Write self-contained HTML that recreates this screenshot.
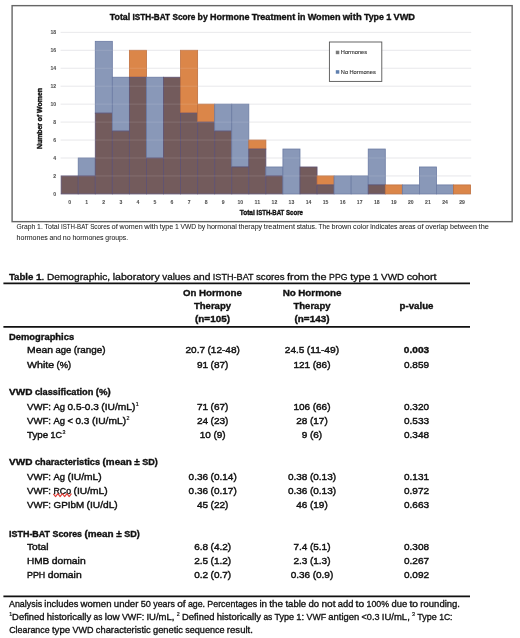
<!DOCTYPE html>
<html lang="en"><head><meta charset="utf-8"><title>Total ISTH-BAT Score by Hormone Treatment in Women with Type 1 VWD</title>
<style>
html,body{margin:0;padding:0;background:#fff;}
body{width:520px;height:638px;overflow:hidden;}
svg{display:block;font-family:"Liberation Sans",sans-serif;filter:blur(0.35px);}
text{white-space:pre;}
</style></head><body>
<svg width="520" height="638" viewBox="0 0 520 638">
<rect width="520" height="638" fill="#fff"/>
<rect x="12.10" y="5.65" width="500.05" height="216.00" fill="#fff" stroke="#666" stroke-width="1.4"/>
<line x1="60.60" y1="193.90" x2="471.19" y2="193.90" stroke="#dadade" stroke-width="1"/>
<line x1="60.60" y1="175.95" x2="471.19" y2="175.95" stroke="#e7e7ea" stroke-width="1"/>
<line x1="60.60" y1="158.00" x2="471.19" y2="158.00" stroke="#e7e7ea" stroke-width="1"/>
<line x1="60.60" y1="140.05" x2="471.19" y2="140.05" stroke="#e7e7ea" stroke-width="1"/>
<line x1="60.60" y1="122.10" x2="471.19" y2="122.10" stroke="#e7e7ea" stroke-width="1"/>
<line x1="60.60" y1="104.15" x2="471.19" y2="104.15" stroke="#e7e7ea" stroke-width="1"/>
<line x1="60.60" y1="86.20" x2="471.19" y2="86.20" stroke="#e7e7ea" stroke-width="1"/>
<line x1="60.60" y1="68.25" x2="471.19" y2="68.25" stroke="#e7e7ea" stroke-width="1"/>
<line x1="60.60" y1="50.30" x2="471.19" y2="50.30" stroke="#e7e7ea" stroke-width="1"/>
<line x1="60.60" y1="32.35" x2="471.19" y2="32.35" stroke="#e7e7ea" stroke-width="1"/>
<rect x="61.15" y="175.95" width="17.06" height="17.95" fill="#735b5c" stroke="#5e5272" stroke-width="0.8"/>
<rect x="78.21" y="158.00" width="17.06" height="17.95" fill="#8998b8" stroke="#6b7ba3" stroke-width="0.8"/>
<rect x="78.21" y="175.95" width="17.06" height="17.95" fill="#735b5c" stroke="#5e5272" stroke-width="0.8"/>
<rect x="95.27" y="41.33" width="17.06" height="71.80" fill="#8998b8" stroke="#6b7ba3" stroke-width="0.8"/>
<rect x="95.27" y="113.13" width="17.06" height="80.77" fill="#735b5c" stroke="#5e5272" stroke-width="0.8"/>
<rect x="112.33" y="77.23" width="17.06" height="53.85" fill="#8998b8" stroke="#6b7ba3" stroke-width="0.8"/>
<rect x="112.33" y="131.08" width="17.06" height="62.82" fill="#735b5c" stroke="#5e5272" stroke-width="0.8"/>
<rect x="129.39" y="50.30" width="17.06" height="26.92" fill="#db8649" stroke="#c0703f" stroke-width="0.8"/>
<rect x="129.39" y="77.23" width="17.06" height="116.67" fill="#735b5c" stroke="#5e5272" stroke-width="0.8"/>
<rect x="146.45" y="77.23" width="17.06" height="80.77" fill="#8998b8" stroke="#6b7ba3" stroke-width="0.8"/>
<rect x="146.45" y="158.00" width="17.06" height="35.90" fill="#735b5c" stroke="#5e5272" stroke-width="0.8"/>
<rect x="163.51" y="77.23" width="17.06" height="116.67" fill="#735b5c" stroke="#5e5272" stroke-width="0.8"/>
<rect x="180.57" y="50.30" width="17.06" height="62.82" fill="#db8649" stroke="#c0703f" stroke-width="0.8"/>
<rect x="180.57" y="113.13" width="17.06" height="80.77" fill="#735b5c" stroke="#5e5272" stroke-width="0.8"/>
<rect x="197.63" y="104.15" width="17.06" height="17.95" fill="#db8649" stroke="#c0703f" stroke-width="0.8"/>
<rect x="197.63" y="122.10" width="17.06" height="71.80" fill="#735b5c" stroke="#5e5272" stroke-width="0.8"/>
<rect x="214.69" y="104.15" width="17.06" height="26.92" fill="#8998b8" stroke="#6b7ba3" stroke-width="0.8"/>
<rect x="214.69" y="131.08" width="17.06" height="62.82" fill="#735b5c" stroke="#5e5272" stroke-width="0.8"/>
<rect x="231.75" y="104.15" width="17.06" height="62.82" fill="#8998b8" stroke="#6b7ba3" stroke-width="0.8"/>
<rect x="231.75" y="166.98" width="17.06" height="26.92" fill="#735b5c" stroke="#5e5272" stroke-width="0.8"/>
<rect x="248.81" y="140.05" width="17.06" height="8.97" fill="#db8649" stroke="#c0703f" stroke-width="0.8"/>
<rect x="248.81" y="149.03" width="17.06" height="44.88" fill="#735b5c" stroke="#5e5272" stroke-width="0.8"/>
<rect x="265.87" y="166.98" width="17.06" height="8.97" fill="#8998b8" stroke="#6b7ba3" stroke-width="0.8"/>
<rect x="265.87" y="175.95" width="17.06" height="17.95" fill="#735b5c" stroke="#5e5272" stroke-width="0.8"/>
<rect x="282.93" y="149.03" width="17.06" height="44.88" fill="#8998b8" stroke="#6b7ba3" stroke-width="0.8"/>
<rect x="299.99" y="166.98" width="17.06" height="26.92" fill="#735b5c" stroke="#5e5272" stroke-width="0.8"/>
<rect x="317.05" y="175.95" width="17.06" height="8.97" fill="#db8649" stroke="#c0703f" stroke-width="0.8"/>
<rect x="317.05" y="184.93" width="17.06" height="8.97" fill="#735b5c" stroke="#5e5272" stroke-width="0.8"/>
<rect x="334.11" y="175.95" width="17.06" height="17.95" fill="#8998b8" stroke="#6b7ba3" stroke-width="0.8"/>
<rect x="351.17" y="175.95" width="17.06" height="17.95" fill="#8998b8" stroke="#6b7ba3" stroke-width="0.8"/>
<rect x="368.23" y="149.03" width="17.06" height="35.90" fill="#8998b8" stroke="#6b7ba3" stroke-width="0.8"/>
<rect x="368.23" y="184.93" width="17.06" height="8.97" fill="#735b5c" stroke="#5e5272" stroke-width="0.8"/>
<rect x="385.29" y="184.93" width="17.06" height="8.97" fill="#db8649" stroke="#c0703f" stroke-width="0.8"/>
<rect x="402.35" y="184.93" width="17.06" height="8.97" fill="#8998b8" stroke="#6b7ba3" stroke-width="0.8"/>
<rect x="419.41" y="166.98" width="17.06" height="26.92" fill="#8998b8" stroke="#6b7ba3" stroke-width="0.8"/>
<rect x="436.47" y="184.93" width="17.06" height="8.97" fill="#8998b8" stroke="#6b7ba3" stroke-width="0.8"/>
<rect x="453.53" y="184.93" width="17.06" height="8.97" fill="#db8649" stroke="#c0703f" stroke-width="0.8"/>
<line x1="61.15" y1="175.95" x2="470.59" y2="175.95" stroke="#fff" stroke-opacity="0.12" stroke-width="1"/>
<line x1="61.15" y1="158.00" x2="470.59" y2="158.00" stroke="#fff" stroke-opacity="0.12" stroke-width="1"/>
<line x1="61.15" y1="140.05" x2="470.59" y2="140.05" stroke="#fff" stroke-opacity="0.12" stroke-width="1"/>
<line x1="61.15" y1="122.10" x2="470.59" y2="122.10" stroke="#fff" stroke-opacity="0.12" stroke-width="1"/>
<line x1="61.15" y1="104.15" x2="470.59" y2="104.15" stroke="#fff" stroke-opacity="0.12" stroke-width="1"/>
<line x1="61.15" y1="86.20" x2="470.59" y2="86.20" stroke="#fff" stroke-opacity="0.12" stroke-width="1"/>
<line x1="61.15" y1="68.25" x2="470.59" y2="68.25" stroke="#fff" stroke-opacity="0.12" stroke-width="1"/>
<line x1="61.15" y1="50.30" x2="470.59" y2="50.30" stroke="#fff" stroke-opacity="0.12" stroke-width="1"/>
<line x1="61.15" y1="32.35" x2="470.59" y2="32.35" stroke="#fff" stroke-opacity="0.12" stroke-width="1"/>
<text y="195.90" font-size="4.87" font-weight="bold" fill="#505050" stroke="#505050" stroke-width="0.06"><tspan x="53.36" textLength="2.84" lengthAdjust="spacingAndGlyphs">0</tspan></text>
<text y="177.95" font-size="4.87" font-weight="bold" fill="#505050" stroke="#505050" stroke-width="0.06"><tspan x="53.36" textLength="2.84" lengthAdjust="spacingAndGlyphs">2</tspan></text>
<text y="160.00" font-size="4.87" font-weight="bold" fill="#505050" stroke="#505050" stroke-width="0.06"><tspan x="53.36" textLength="2.84" lengthAdjust="spacingAndGlyphs">4</tspan></text>
<text y="142.05" font-size="4.87" font-weight="bold" fill="#505050" stroke="#505050" stroke-width="0.06"><tspan x="53.36" textLength="2.84" lengthAdjust="spacingAndGlyphs">6</tspan></text>
<text y="124.10" font-size="4.87" font-weight="bold" fill="#505050" stroke="#505050" stroke-width="0.06"><tspan x="53.36" textLength="2.84" lengthAdjust="spacingAndGlyphs">8</tspan></text>
<text y="106.15" font-size="4.87" font-weight="bold" fill="#505050" stroke="#505050" stroke-width="0.06"><tspan x="50.52" textLength="5.68" lengthAdjust="spacingAndGlyphs">10</tspan></text>
<text y="88.20" font-size="4.87" font-weight="bold" fill="#505050" stroke="#505050" stroke-width="0.06"><tspan x="50.52" textLength="5.68" lengthAdjust="spacingAndGlyphs">12</tspan></text>
<text y="70.25" font-size="4.87" font-weight="bold" fill="#505050" stroke="#505050" stroke-width="0.06"><tspan x="50.52" textLength="5.68" lengthAdjust="spacingAndGlyphs">14</tspan></text>
<text y="52.30" font-size="4.87" font-weight="bold" fill="#505050" stroke="#505050" stroke-width="0.06"><tspan x="50.52" textLength="5.68" lengthAdjust="spacingAndGlyphs">16</tspan></text>
<text y="34.35" font-size="4.87" font-weight="bold" fill="#505050" stroke="#505050" stroke-width="0.06"><tspan x="50.52" textLength="5.68" lengthAdjust="spacingAndGlyphs">18</tspan></text>
<text y="203.70" font-size="4.87" font-weight="bold" fill="#505050" stroke="#505050" stroke-width="0.06"><tspan x="68.26" textLength="2.84" lengthAdjust="spacingAndGlyphs">0</tspan></text>
<text y="203.70" font-size="4.87" font-weight="bold" fill="#505050" stroke="#505050" stroke-width="0.06"><tspan x="85.32" textLength="2.84" lengthAdjust="spacingAndGlyphs">1</tspan></text>
<text y="203.70" font-size="4.87" font-weight="bold" fill="#505050" stroke="#505050" stroke-width="0.06"><tspan x="102.38" textLength="2.84" lengthAdjust="spacingAndGlyphs">2</tspan></text>
<text y="203.70" font-size="4.87" font-weight="bold" fill="#505050" stroke="#505050" stroke-width="0.06"><tspan x="119.44" textLength="2.84" lengthAdjust="spacingAndGlyphs">3</tspan></text>
<text y="203.70" font-size="4.87" font-weight="bold" fill="#505050" stroke="#505050" stroke-width="0.06"><tspan x="136.50" textLength="2.84" lengthAdjust="spacingAndGlyphs">4</tspan></text>
<text y="203.70" font-size="4.87" font-weight="bold" fill="#505050" stroke="#505050" stroke-width="0.06"><tspan x="153.56" textLength="2.84" lengthAdjust="spacingAndGlyphs">5</tspan></text>
<text y="203.70" font-size="4.87" font-weight="bold" fill="#505050" stroke="#505050" stroke-width="0.06"><tspan x="170.62" textLength="2.84" lengthAdjust="spacingAndGlyphs">6</tspan></text>
<text y="203.70" font-size="4.87" font-weight="bold" fill="#505050" stroke="#505050" stroke-width="0.06"><tspan x="187.68" textLength="2.84" lengthAdjust="spacingAndGlyphs">7</tspan></text>
<text y="203.70" font-size="4.87" font-weight="bold" fill="#505050" stroke="#505050" stroke-width="0.06"><tspan x="204.74" textLength="2.84" lengthAdjust="spacingAndGlyphs">8</tspan></text>
<text y="203.70" font-size="4.87" font-weight="bold" fill="#505050" stroke="#505050" stroke-width="0.06"><tspan x="221.80" textLength="2.84" lengthAdjust="spacingAndGlyphs">9</tspan></text>
<text y="203.70" font-size="4.87" font-weight="bold" fill="#505050" stroke="#505050" stroke-width="0.06"><tspan x="237.44" textLength="5.68" lengthAdjust="spacingAndGlyphs">10</tspan></text>
<text y="203.70" font-size="4.87" font-weight="bold" fill="#505050" stroke="#505050" stroke-width="0.06"><tspan x="254.50" textLength="5.68" lengthAdjust="spacingAndGlyphs">11</tspan></text>
<text y="203.70" font-size="4.87" font-weight="bold" fill="#505050" stroke="#505050" stroke-width="0.06"><tspan x="271.56" textLength="5.68" lengthAdjust="spacingAndGlyphs">12</tspan></text>
<text y="203.70" font-size="4.87" font-weight="bold" fill="#505050" stroke="#505050" stroke-width="0.06"><tspan x="288.62" textLength="5.68" lengthAdjust="spacingAndGlyphs">13</tspan></text>
<text y="203.70" font-size="4.87" font-weight="bold" fill="#505050" stroke="#505050" stroke-width="0.06"><tspan x="305.68" textLength="5.68" lengthAdjust="spacingAndGlyphs">14</tspan></text>
<text y="203.70" font-size="4.87" font-weight="bold" fill="#505050" stroke="#505050" stroke-width="0.06"><tspan x="322.74" textLength="5.68" lengthAdjust="spacingAndGlyphs">15</tspan></text>
<text y="203.70" font-size="4.87" font-weight="bold" fill="#505050" stroke="#505050" stroke-width="0.06"><tspan x="339.80" textLength="5.68" lengthAdjust="spacingAndGlyphs">16</tspan></text>
<text y="203.70" font-size="4.87" font-weight="bold" fill="#505050" stroke="#505050" stroke-width="0.06"><tspan x="356.86" textLength="5.68" lengthAdjust="spacingAndGlyphs">17</tspan></text>
<text y="203.70" font-size="4.87" font-weight="bold" fill="#505050" stroke="#505050" stroke-width="0.06"><tspan x="373.92" textLength="5.68" lengthAdjust="spacingAndGlyphs">18</tspan></text>
<text y="203.70" font-size="4.87" font-weight="bold" fill="#505050" stroke="#505050" stroke-width="0.06"><tspan x="390.98" textLength="5.68" lengthAdjust="spacingAndGlyphs">19</tspan></text>
<text y="203.70" font-size="4.87" font-weight="bold" fill="#505050" stroke="#505050" stroke-width="0.06"><tspan x="408.04" textLength="5.68" lengthAdjust="spacingAndGlyphs">20</tspan></text>
<text y="203.70" font-size="4.87" font-weight="bold" fill="#505050" stroke="#505050" stroke-width="0.06"><tspan x="425.10" textLength="5.68" lengthAdjust="spacingAndGlyphs">21</tspan></text>
<text y="203.70" font-size="4.87" font-weight="bold" fill="#505050" stroke="#505050" stroke-width="0.06"><tspan x="442.16" textLength="5.68" lengthAdjust="spacingAndGlyphs">24</tspan></text>
<text y="203.70" font-size="4.87" font-weight="bold" fill="#505050" stroke="#505050" stroke-width="0.06"><tspan x="459.22" textLength="5.68" lengthAdjust="spacingAndGlyphs">29</tspan></text>
<text y="19.75" font-size="9.68" font-weight="bold" fill="#111" stroke="#111" stroke-width="0.38"><tspan x="109.80" textLength="20.39" lengthAdjust="spacingAndGlyphs">Total</tspan> <tspan x="132.47" textLength="37.65" lengthAdjust="spacingAndGlyphs">ISTH-BAT</tspan> <tspan x="172.40" textLength="22.90" lengthAdjust="spacingAndGlyphs">Score</tspan> <tspan x="197.58" textLength="10.13" lengthAdjust="spacingAndGlyphs">by</tspan> <tspan x="209.99" textLength="39.46" lengthAdjust="spacingAndGlyphs">Hormone</tspan> <tspan x="251.73" textLength="43.48" lengthAdjust="spacingAndGlyphs">Treatment</tspan> <tspan x="297.49" textLength="7.89" lengthAdjust="spacingAndGlyphs">in</tspan> <tspan x="307.65" textLength="32.84" lengthAdjust="spacingAndGlyphs">Women</tspan> <tspan x="342.78" textLength="18.89" lengthAdjust="spacingAndGlyphs">with</tspan> <tspan x="363.95" textLength="19.93" lengthAdjust="spacingAndGlyphs">Type</tspan> <tspan x="386.16" textLength="5.11" lengthAdjust="spacingAndGlyphs">1</tspan> <tspan x="393.55" textLength="21.45" lengthAdjust="spacingAndGlyphs">VWD</tspan></text>
<text y="215.20" font-size="7.30" font-weight="bold" fill="#111" stroke="#111" stroke-width="0.38"><tspan x="239.71" textLength="15.07" lengthAdjust="spacingAndGlyphs">Total</tspan> <tspan x="256.46" textLength="27.83" lengthAdjust="spacingAndGlyphs">ISTH-BAT</tspan> <tspan x="285.97" textLength="16.92" lengthAdjust="spacingAndGlyphs">Score</tspan></text>
<text y="118.50" font-size="7.34" font-weight="bold" fill="#111" stroke="#111" stroke-width="0.38" transform="rotate(-90 42.30 118.50)"><tspan x="11.82" textLength="26.04" lengthAdjust="spacingAndGlyphs">Number</tspan> <tspan x="39.59" textLength="6.53" lengthAdjust="spacingAndGlyphs">of</tspan> <tspan x="47.85" textLength="24.93" lengthAdjust="spacingAndGlyphs">Women</tspan></text>
<rect x="329.40" y="42.00" width="52.40" height="39.40" fill="#fff" stroke="#555" stroke-width="0.9"/>
<rect x="335.80" y="50.70" width="3.50" height="3.50" fill="#7a7a7a"/>
<rect x="335.80" y="70.20" width="3.50" height="3.50" fill="#5f7fae"/>
<text y="54.10" font-size="5.58" fill="#333" stroke="#333" stroke-width="0.12"><tspan x="340.80" textLength="26.28" lengthAdjust="spacingAndGlyphs">Hormones</tspan></text>
<text y="74.00" font-size="5.58" fill="#333" stroke="#333" stroke-width="0.12"><tspan x="340.80" textLength="7.27" lengthAdjust="spacingAndGlyphs">No</tspan> <tspan x="349.47" textLength="26.28" lengthAdjust="spacingAndGlyphs">Hormones</tspan></text>
<text y="229.45" font-size="7.09" fill="#222" stroke="#222" stroke-width="0.05"><tspan x="16.60" textLength="18.77" lengthAdjust="spacingAndGlyphs">Graph</tspan> <tspan x="37.07" textLength="5.73" lengthAdjust="spacingAndGlyphs">1.</tspan> <tspan x="44.50" textLength="14.76" lengthAdjust="spacingAndGlyphs">Total</tspan> <tspan x="60.96" textLength="27.47" lengthAdjust="spacingAndGlyphs">ISTH-BAT</tspan> <tspan x="90.14" textLength="19.80" lengthAdjust="spacingAndGlyphs">Scores</tspan> <tspan x="111.64" textLength="6.28" lengthAdjust="spacingAndGlyphs">of</tspan> <tspan x="119.62" textLength="23.03" lengthAdjust="spacingAndGlyphs">women</tspan> <tspan x="144.36" textLength="13.61" lengthAdjust="spacingAndGlyphs">with</tspan> <tspan x="159.67" textLength="13.65" lengthAdjust="spacingAndGlyphs">type</tspan> <tspan x="175.02" textLength="3.82" lengthAdjust="spacingAndGlyphs">1</tspan> <tspan x="180.55" textLength="15.62" lengthAdjust="spacingAndGlyphs">VWD</tspan> <tspan x="197.88" textLength="7.34" lengthAdjust="spacingAndGlyphs">by</tspan> <tspan x="206.92" textLength="29.87" lengthAdjust="spacingAndGlyphs">hormonal</tspan> <tspan x="238.50" textLength="23.66" lengthAdjust="spacingAndGlyphs">therapy</tspan> <tspan x="263.86" textLength="31.07" lengthAdjust="spacingAndGlyphs">treatment</tspan> <tspan x="296.64" textLength="20.18" lengthAdjust="spacingAndGlyphs">status.</tspan> <tspan x="318.52" textLength="11.39" lengthAdjust="spacingAndGlyphs">The</tspan> <tspan x="331.61" textLength="19.77" lengthAdjust="spacingAndGlyphs">brown</tspan> <tspan x="353.08" textLength="15.44" lengthAdjust="spacingAndGlyphs">color</tspan> <tspan x="370.23" textLength="27.20" lengthAdjust="spacingAndGlyphs">indicates</tspan> <tspan x="399.13" textLength="16.45" lengthAdjust="spacingAndGlyphs">areas</tspan> <tspan x="417.29" textLength="6.28" lengthAdjust="spacingAndGlyphs">of</tspan> <tspan x="425.27" textLength="22.96" lengthAdjust="spacingAndGlyphs">overlap</tspan> <tspan x="449.93" textLength="26.99" lengthAdjust="spacingAndGlyphs">between</tspan> <tspan x="478.62" textLength="10.24" lengthAdjust="spacingAndGlyphs">the</tspan></text>
<text y="240.00" font-size="7.09" fill="#222" stroke="#222" stroke-width="0.05"><tspan x="16.60" textLength="31.23" lengthAdjust="spacingAndGlyphs">hormones</tspan> <tspan x="49.53" textLength="11.53" lengthAdjust="spacingAndGlyphs">and</tspan> <tspan x="62.77" textLength="7.94" lengthAdjust="spacingAndGlyphs">no</tspan> <tspan x="72.41" textLength="31.23" lengthAdjust="spacingAndGlyphs">hormones</tspan> <tspan x="105.35" textLength="22.77" lengthAdjust="spacingAndGlyphs">groups.</tspan></text>
<text y="279.60" font-size="9.31" font-weight="bold" fill="#111" stroke="#111" stroke-width="0.3"><tspan x="8.90" textLength="24.52" lengthAdjust="spacingAndGlyphs">Table</tspan> <tspan x="35.94" textLength="5.65" lengthAdjust="spacingAndGlyphs">1</tspan></text>
<text y="279.60" font-size="9.31" fill="#111" stroke="#111" stroke-width="0.3"><tspan x="41.59" textLength="2.81" lengthAdjust="spacingAndGlyphs">.</tspan> <tspan x="46.92" textLength="63.21" lengthAdjust="spacingAndGlyphs">Demographic,</tspan> <tspan x="112.66" textLength="47.03" lengthAdjust="spacingAndGlyphs">laboratory</tspan> <tspan x="162.21" textLength="28.54" lengthAdjust="spacingAndGlyphs">values</tspan> <tspan x="193.27" textLength="17.06" lengthAdjust="spacingAndGlyphs">and</tspan> <tspan x="212.85" textLength="40.62" lengthAdjust="spacingAndGlyphs">ISTH-BAT</tspan> <tspan x="255.99" textLength="28.51" lengthAdjust="spacingAndGlyphs">scores</tspan> <tspan x="287.03" textLength="21.90" lengthAdjust="spacingAndGlyphs">from</tspan> <tspan x="311.44" textLength="15.14" lengthAdjust="spacingAndGlyphs">the</tspan> <tspan x="329.11" textLength="18.55" lengthAdjust="spacingAndGlyphs">PPG</tspan> <tspan x="350.18" textLength="20.19" lengthAdjust="spacingAndGlyphs">type</tspan> <tspan x="372.89" textLength="5.65" lengthAdjust="spacingAndGlyphs">1</tspan> <tspan x="381.06" textLength="23.11" lengthAdjust="spacingAndGlyphs">VWD</tspan> <tspan x="406.69" textLength="29.86" lengthAdjust="spacingAndGlyphs">cohort</tspan></text>
<line x1="3.40" y1="283.45" x2="470.00" y2="283.45" stroke="#111" stroke-width="1.7"/>
<text y="296.10" font-size="9.90" font-weight="bold" fill="#111" stroke="#111" stroke-width="0.38"><tspan x="183.05" textLength="13.34" lengthAdjust="spacingAndGlyphs">On</tspan> <tspan x="198.88" textLength="43.07" lengthAdjust="spacingAndGlyphs">Hormone</tspan></text>
<text y="296.10" font-size="9.90" font-weight="bold" fill="#111" stroke="#111" stroke-width="0.38"><tspan x="282.64" textLength="13.16" lengthAdjust="spacingAndGlyphs">No</tspan> <tspan x="298.29" textLength="43.07" lengthAdjust="spacingAndGlyphs">Hormone</tspan></text>
<text y="309.20" font-size="9.90" font-weight="bold" fill="#111" stroke="#111" stroke-width="0.38"><tspan x="193.98" textLength="37.04" lengthAdjust="spacingAndGlyphs">Therapy</tspan></text>
<text y="309.20" font-size="9.90" font-weight="bold" fill="#111" stroke="#111" stroke-width="0.38"><tspan x="293.48" textLength="37.04" lengthAdjust="spacingAndGlyphs">Therapy</tspan></text>
<text y="322.30" font-size="9.90" font-weight="bold" fill="#111" stroke="#111" stroke-width="0.38"><tspan x="195.02" textLength="34.96" lengthAdjust="spacingAndGlyphs">(n=105)</tspan></text>
<text y="322.30" font-size="9.90" font-weight="bold" fill="#111" stroke="#111" stroke-width="0.38"><tspan x="294.52" textLength="34.96" lengthAdjust="spacingAndGlyphs">(n=143)</tspan></text>
<text y="309.20" font-size="9.90" font-weight="bold" fill="#111" stroke="#111" stroke-width="0.38"><tspan x="399.60" textLength="33.81" lengthAdjust="spacingAndGlyphs">p-value</tspan></text>
<line x1="3.40" y1="326.80" x2="470.00" y2="326.80" stroke="#111" stroke-width="1.7"/>
<text y="339.60" font-size="9.57" font-weight="bold" fill="#111" stroke="#111" stroke-width="0.38"><tspan x="9.00" textLength="65.15" lengthAdjust="spacingAndGlyphs">Demographics</tspan></text>
<text y="353.40" font-size="9.57" fill="#111" stroke="#111" stroke-width="0.42"><tspan x="27.00" textLength="25.93" lengthAdjust="spacingAndGlyphs">Mean</tspan> <tspan x="55.41" textLength="15.83" lengthAdjust="spacingAndGlyphs">age</tspan> <tspan x="73.73" textLength="31.89" lengthAdjust="spacingAndGlyphs">(range)</tspan></text>
<text y="353.40" font-size="9.57" fill="#111" stroke="#111" stroke-width="0.42"><tspan x="185.54" textLength="19.50" lengthAdjust="spacingAndGlyphs">20.7</tspan> <tspan x="207.52" textLength="32.34" lengthAdjust="spacingAndGlyphs">(12-48)</tspan></text>
<text y="353.40" font-size="9.57" fill="#111" stroke="#111" stroke-width="0.42"><tspan x="284.84" textLength="19.50" lengthAdjust="spacingAndGlyphs">24.5</tspan> <tspan x="306.82" textLength="32.34" lengthAdjust="spacingAndGlyphs">(11-49)</tspan></text>
<text y="353.40" font-size="9.57" font-weight="bold" fill="#111" stroke="#111" stroke-width="0.38"><tspan x="403.88" textLength="25.24" lengthAdjust="spacingAndGlyphs">0.003</tspan></text>
<text y="367.80" font-size="9.57" fill="#111" stroke="#111" stroke-width="0.42"><tspan x="27.00" textLength="27.13" lengthAdjust="spacingAndGlyphs">White</tspan> <tspan x="56.62" textLength="14.53" lengthAdjust="spacingAndGlyphs">(%)</tspan></text>
<text y="367.80" font-size="9.57" fill="#111" stroke="#111" stroke-width="0.42"><tspan x="196.97" textLength="11.15" lengthAdjust="spacingAndGlyphs">91</tspan> <tspan x="210.61" textLength="17.82" lengthAdjust="spacingAndGlyphs">(87)</tspan></text>
<text y="367.80" font-size="9.57" fill="#111" stroke="#111" stroke-width="0.42"><tspan x="293.48" textLength="16.73" lengthAdjust="spacingAndGlyphs">121</tspan> <tspan x="312.70" textLength="17.82" lengthAdjust="spacingAndGlyphs">(86)</tspan></text>
<text y="367.80" font-size="9.57" fill="#111" stroke="#111" stroke-width="0.42"><tspan x="403.96" textLength="25.08" lengthAdjust="spacingAndGlyphs">0.859</tspan></text>
<text y="394.60" font-size="9.57" font-weight="bold" fill="#111" stroke="#111" stroke-width="0.38"><tspan x="9.00" textLength="23.41" lengthAdjust="spacingAndGlyphs">VWD</tspan> <tspan x="34.89" textLength="58.43" lengthAdjust="spacingAndGlyphs">classification</tspan> <tspan x="95.82" textLength="14.87" lengthAdjust="spacingAndGlyphs">(%)</tspan></text>
<text y="409.50" font-size="9.57" fill="#111" stroke="#111" stroke-width="0.42"><tspan x="27.00" textLength="24.03" lengthAdjust="spacingAndGlyphs">VWF:</tspan> <tspan x="53.51" textLength="11.54" lengthAdjust="spacingAndGlyphs">Ag</tspan> <tspan x="67.54" textLength="31.22" lengthAdjust="spacingAndGlyphs">0.5-0.3</tspan> <tspan x="101.25" textLength="34.16" lengthAdjust="spacingAndGlyphs">(IU/mL)</tspan></text>
<text y="406.00" font-size="5.22" fill="#111" stroke="#111" stroke-width="0.2"><tspan x="135.81" textLength="2.94" lengthAdjust="spacingAndGlyphs">1</tspan></text>
<text y="409.50" font-size="9.57" fill="#111" stroke="#111" stroke-width="0.42"><tspan x="196.97" textLength="11.15" lengthAdjust="spacingAndGlyphs">71</tspan> <tspan x="210.61" textLength="17.82" lengthAdjust="spacingAndGlyphs">(67)</tspan></text>
<text y="409.50" font-size="9.57" fill="#111" stroke="#111" stroke-width="0.42"><tspan x="293.48" textLength="16.73" lengthAdjust="spacingAndGlyphs">106</tspan> <tspan x="312.70" textLength="17.82" lengthAdjust="spacingAndGlyphs">(66)</tspan></text>
<text y="409.50" font-size="9.57" fill="#111" stroke="#111" stroke-width="0.42"><tspan x="403.96" textLength="25.08" lengthAdjust="spacingAndGlyphs">0.320</tspan></text>
<text y="423.70" font-size="9.57" fill="#111" stroke="#111" stroke-width="0.42"><tspan x="27.00" textLength="24.03" lengthAdjust="spacingAndGlyphs">VWF:</tspan> <tspan x="53.51" textLength="11.54" lengthAdjust="spacingAndGlyphs">Ag</tspan> <tspan x="67.54" textLength="5.48" lengthAdjust="spacingAndGlyphs">&lt;</tspan> <tspan x="75.51" textLength="13.93" lengthAdjust="spacingAndGlyphs">0.3</tspan> <tspan x="91.92" textLength="34.16" lengthAdjust="spacingAndGlyphs">(IU/mL)</tspan></text>
<text y="420.20" font-size="5.22" fill="#111" stroke="#111" stroke-width="0.2"><tspan x="126.48" textLength="2.94" lengthAdjust="spacingAndGlyphs">2</tspan></text>
<text y="423.70" font-size="9.57" fill="#111" stroke="#111" stroke-width="0.42"><tspan x="196.97" textLength="11.15" lengthAdjust="spacingAndGlyphs">24</tspan> <tspan x="210.61" textLength="17.82" lengthAdjust="spacingAndGlyphs">(23)</tspan></text>
<text y="423.70" font-size="9.57" fill="#111" stroke="#111" stroke-width="0.42"><tspan x="296.27" textLength="11.15" lengthAdjust="spacingAndGlyphs">28</tspan> <tspan x="309.91" textLength="17.82" lengthAdjust="spacingAndGlyphs">(17)</tspan></text>
<text y="423.70" font-size="9.57" fill="#111" stroke="#111" stroke-width="0.42"><tspan x="403.96" textLength="25.08" lengthAdjust="spacingAndGlyphs">0.533</tspan></text>
<text y="437.70" font-size="9.57" fill="#111" stroke="#111" stroke-width="0.42"><tspan x="27.00" textLength="21.09" lengthAdjust="spacingAndGlyphs">Type</tspan> <tspan x="50.58" textLength="11.44" lengthAdjust="spacingAndGlyphs">1C</tspan></text>
<text y="434.20" font-size="5.22" fill="#111" stroke="#111" stroke-width="0.2"><tspan x="62.42" textLength="2.94" lengthAdjust="spacingAndGlyphs">3</tspan></text>
<text y="437.70" font-size="9.57" fill="#111" stroke="#111" stroke-width="0.42"><tspan x="199.76" textLength="11.15" lengthAdjust="spacingAndGlyphs">10</tspan> <tspan x="213.40" textLength="12.25" lengthAdjust="spacingAndGlyphs">(9)</tspan></text>
<text y="437.70" font-size="9.57" fill="#111" stroke="#111" stroke-width="0.42"><tspan x="301.85" textLength="5.58" lengthAdjust="spacingAndGlyphs">9</tspan> <tspan x="309.91" textLength="12.25" lengthAdjust="spacingAndGlyphs">(6)</tspan></text>
<text y="437.70" font-size="9.57" fill="#111" stroke="#111" stroke-width="0.42"><tspan x="403.96" textLength="25.08" lengthAdjust="spacingAndGlyphs">0.348</tspan></text>
<text y="465.20" font-size="9.57" font-weight="bold" fill="#111" stroke="#111" stroke-width="0.38"><tspan x="9.00" textLength="23.41" lengthAdjust="spacingAndGlyphs">VWD</tspan> <tspan x="34.89" textLength="65.17" lengthAdjust="spacingAndGlyphs">characteristics</tspan> <tspan x="102.55" textLength="29.25" lengthAdjust="spacingAndGlyphs">(mean</tspan> <tspan x="134.28" textLength="5.48" lengthAdjust="spacingAndGlyphs">±</tspan> <tspan x="142.25" textLength="15.56" lengthAdjust="spacingAndGlyphs">SD)</tspan></text>
<text y="479.70" font-size="9.57" fill="#111" stroke="#111" stroke-width="0.42"><tspan x="27.00" textLength="24.03" lengthAdjust="spacingAndGlyphs">VWF:</tspan> <tspan x="53.51" textLength="11.54" lengthAdjust="spacingAndGlyphs">Ag</tspan> <tspan x="67.54" textLength="34.16" lengthAdjust="spacingAndGlyphs">(IU/mL)</tspan></text>
<text y="479.70" font-size="9.57" fill="#111" stroke="#111" stroke-width="0.42"><tspan x="188.62" textLength="19.50" lengthAdjust="spacingAndGlyphs">0.36</tspan> <tspan x="210.61" textLength="26.17" lengthAdjust="spacingAndGlyphs">(0.14)</tspan></text>
<text y="479.70" font-size="9.57" fill="#111" stroke="#111" stroke-width="0.42"><tspan x="287.92" textLength="19.50" lengthAdjust="spacingAndGlyphs">0.38</tspan> <tspan x="309.91" textLength="26.17" lengthAdjust="spacingAndGlyphs">(0.13)</tspan></text>
<text y="479.70" font-size="9.57" fill="#111" stroke="#111" stroke-width="0.42"><tspan x="403.96" textLength="25.08" lengthAdjust="spacingAndGlyphs">0.131</tspan></text>
<text y="493.80" font-size="9.57" fill="#111" stroke="#111" stroke-width="0.42"><tspan x="27.00" textLength="24.03" lengthAdjust="spacingAndGlyphs">VWF:</tspan> <tspan x="53.51" textLength="17.54" lengthAdjust="spacingAndGlyphs">RCo</tspan> <tspan x="73.54" textLength="34.16" lengthAdjust="spacingAndGlyphs">(IU/mL)</tspan></text>
<text y="493.80" font-size="9.57" fill="#111" stroke="#111" stroke-width="0.42"><tspan x="188.62" textLength="19.50" lengthAdjust="spacingAndGlyphs">0.36</tspan> <tspan x="210.61" textLength="26.17" lengthAdjust="spacingAndGlyphs">(0.17)</tspan></text>
<text y="493.80" font-size="9.57" fill="#111" stroke="#111" stroke-width="0.42"><tspan x="287.92" textLength="19.50" lengthAdjust="spacingAndGlyphs">0.36</tspan> <tspan x="309.91" textLength="26.17" lengthAdjust="spacingAndGlyphs">(0.13)</tspan></text>
<text y="493.80" font-size="9.57" fill="#111" stroke="#111" stroke-width="0.42"><tspan x="403.96" textLength="25.08" lengthAdjust="spacingAndGlyphs">0.972</tspan></text>
<text y="508.20" font-size="9.57" fill="#111" stroke="#111" stroke-width="0.42"><tspan x="27.00" textLength="24.03" lengthAdjust="spacingAndGlyphs">VWF:</tspan> <tspan x="53.51" textLength="30.58" lengthAdjust="spacingAndGlyphs">GPIbM</tspan> <tspan x="86.58" textLength="31.15" lengthAdjust="spacingAndGlyphs">(IU/dL)</tspan></text>
<text y="508.20" font-size="9.57" fill="#111" stroke="#111" stroke-width="0.42"><tspan x="196.97" textLength="11.15" lengthAdjust="spacingAndGlyphs">45</tspan> <tspan x="210.61" textLength="17.82" lengthAdjust="spacingAndGlyphs">(22)</tspan></text>
<text y="508.20" font-size="9.57" fill="#111" stroke="#111" stroke-width="0.42"><tspan x="296.27" textLength="11.15" lengthAdjust="spacingAndGlyphs">46</tspan> <tspan x="309.91" textLength="17.82" lengthAdjust="spacingAndGlyphs">(19)</tspan></text>
<text y="508.20" font-size="9.57" fill="#111" stroke="#111" stroke-width="0.42"><tspan x="403.96" textLength="25.08" lengthAdjust="spacingAndGlyphs">0.663</tspan></text>
<text y="536.50" font-size="9.57" font-weight="bold" fill="#111" stroke="#111" stroke-width="0.38"><tspan x="9.00" textLength="41.09" lengthAdjust="spacingAndGlyphs">ISTH-BAT</tspan> <tspan x="52.58" textLength="29.38" lengthAdjust="spacingAndGlyphs">Scores</tspan> <tspan x="84.44" textLength="29.25" lengthAdjust="spacingAndGlyphs">(mean</tspan> <tspan x="116.17" textLength="5.48" lengthAdjust="spacingAndGlyphs">±</tspan> <tspan x="124.14" textLength="15.56" lengthAdjust="spacingAndGlyphs">SD)</tspan></text>
<text y="550.00" font-size="9.57" fill="#111" stroke="#111" stroke-width="0.42"><tspan x="27.00" textLength="21.53" lengthAdjust="spacingAndGlyphs">Total</tspan></text>
<text y="550.00" font-size="9.57" fill="#111" stroke="#111" stroke-width="0.42"><tspan x="194.19" textLength="13.93" lengthAdjust="spacingAndGlyphs">6.8</tspan> <tspan x="210.61" textLength="20.60" lengthAdjust="spacingAndGlyphs">(4.2)</tspan></text>
<text y="550.00" font-size="9.57" fill="#111" stroke="#111" stroke-width="0.42"><tspan x="293.49" textLength="13.93" lengthAdjust="spacingAndGlyphs">7.4</tspan> <tspan x="309.91" textLength="20.60" lengthAdjust="spacingAndGlyphs">(5.1)</tspan></text>
<text y="550.00" font-size="9.57" fill="#111" stroke="#111" stroke-width="0.42"><tspan x="403.96" textLength="25.08" lengthAdjust="spacingAndGlyphs">0.308</tspan></text>
<text y="564.20" font-size="9.57" fill="#111" stroke="#111" stroke-width="0.42"><tspan x="27.00" textLength="22.24" lengthAdjust="spacingAndGlyphs">HMB</tspan> <tspan x="51.73" textLength="33.94" lengthAdjust="spacingAndGlyphs">domain</tspan></text>
<text y="564.20" font-size="9.57" fill="#111" stroke="#111" stroke-width="0.42"><tspan x="194.19" textLength="13.93" lengthAdjust="spacingAndGlyphs">2.5</tspan> <tspan x="210.61" textLength="20.60" lengthAdjust="spacingAndGlyphs">(1.2)</tspan></text>
<text y="564.20" font-size="9.57" fill="#111" stroke="#111" stroke-width="0.42"><tspan x="293.49" textLength="13.93" lengthAdjust="spacingAndGlyphs">2.3</tspan> <tspan x="309.91" textLength="20.60" lengthAdjust="spacingAndGlyphs">(1.3)</tspan></text>
<text y="564.20" font-size="9.57" fill="#111" stroke="#111" stroke-width="0.42"><tspan x="403.96" textLength="25.08" lengthAdjust="spacingAndGlyphs">0.267</tspan></text>
<text y="578.40" font-size="9.57" fill="#111" stroke="#111" stroke-width="0.42"><tspan x="27.00" textLength="18.22" lengthAdjust="spacingAndGlyphs">PPH</tspan> <tspan x="47.71" textLength="33.94" lengthAdjust="spacingAndGlyphs">domain</tspan></text>
<text y="578.40" font-size="9.57" fill="#111" stroke="#111" stroke-width="0.42"><tspan x="194.19" textLength="13.93" lengthAdjust="spacingAndGlyphs">0.2</tspan> <tspan x="210.61" textLength="20.60" lengthAdjust="spacingAndGlyphs">(0.7)</tspan></text>
<text y="578.40" font-size="9.57" fill="#111" stroke="#111" stroke-width="0.42"><tspan x="290.71" textLength="19.50" lengthAdjust="spacingAndGlyphs">0.36</tspan> <tspan x="312.70" textLength="20.60" lengthAdjust="spacingAndGlyphs">(0.9)</tspan></text>
<text y="578.40" font-size="9.57" fill="#111" stroke="#111" stroke-width="0.42"><tspan x="403.96" textLength="25.08" lengthAdjust="spacingAndGlyphs">0.092</tspan></text>
<line x1="3.40" y1="596.45" x2="470.00" y2="596.45" stroke="#111" stroke-width="1.7"/>
<path d="M53.31 493.90 L55.58 496.60 L57.85 493.60 L60.12 496.60 L62.38 493.60 L64.65 496.60 L66.92 493.60 L69.19 496.60 L71.45 493.60" fill="none" stroke="#e0403a" stroke-width="1.1" stroke-linejoin="round"/>
<text y="607.20" font-size="9.12" fill="#111" stroke="#111" stroke-width="0.32"><tspan x="9.00" textLength="33.10" lengthAdjust="spacingAndGlyphs">Analysis</tspan> <tspan x="44.39" textLength="33.90" lengthAdjust="spacingAndGlyphs">includes</tspan> <tspan x="80.58" textLength="30.94" lengthAdjust="spacingAndGlyphs">women</tspan> <tspan x="113.82" textLength="24.54" lengthAdjust="spacingAndGlyphs">under</tspan> <tspan x="140.65" textLength="10.27" lengthAdjust="spacingAndGlyphs">50</tspan> <tspan x="153.21" textLength="21.68" lengthAdjust="spacingAndGlyphs">years</tspan> <tspan x="177.17" textLength="8.43" lengthAdjust="spacingAndGlyphs">of</tspan> <tspan x="187.90" textLength="17.13" lengthAdjust="spacingAndGlyphs">age.</tspan> <tspan x="207.32" textLength="49.82" lengthAdjust="spacingAndGlyphs">Percentages</tspan> <tspan x="259.43" textLength="7.65" lengthAdjust="spacingAndGlyphs">in</tspan> <tspan x="269.37" textLength="13.76" lengthAdjust="spacingAndGlyphs">the</tspan> <tspan x="285.41" textLength="20.81" lengthAdjust="spacingAndGlyphs">table</tspan> <tspan x="308.51" textLength="10.66" lengthAdjust="spacingAndGlyphs">do</tspan> <tspan x="321.47" textLength="14.06" lengthAdjust="spacingAndGlyphs">not</tspan> <tspan x="337.81" textLength="15.50" lengthAdjust="spacingAndGlyphs">add</tspan> <tspan x="355.60" textLength="8.64" lengthAdjust="spacingAndGlyphs">to</tspan> <tspan x="366.53" textLength="22.64" lengthAdjust="spacingAndGlyphs">100%</tspan> <tspan x="391.46" textLength="15.68" lengthAdjust="spacingAndGlyphs">due</tspan> <tspan x="409.44" textLength="8.64" lengthAdjust="spacingAndGlyphs">to</tspan> <tspan x="420.36" textLength="39.65" lengthAdjust="spacingAndGlyphs">rounding.</tspan></text>
<text y="616.40" font-size="5.22" fill="#111" stroke="#111" stroke-width="0.2"><tspan x="9.20" textLength="2.94" lengthAdjust="spacingAndGlyphs">1</tspan></text>
<text y="619.70" font-size="9.15" fill="#111" stroke="#111" stroke-width="0.32"><tspan x="12.14" textLength="32.36" lengthAdjust="spacingAndGlyphs">Defined</tspan> <tspan x="46.80" textLength="44.45" lengthAdjust="spacingAndGlyphs">historically</tspan> <tspan x="93.55" textLength="8.85" lengthAdjust="spacingAndGlyphs">as</tspan> <tspan x="104.69" textLength="14.93" lengthAdjust="spacingAndGlyphs">low</tspan> <tspan x="121.92" textLength="22.21" lengthAdjust="spacingAndGlyphs">VWF:</tspan> <tspan x="146.43" textLength="28.04" lengthAdjust="spacingAndGlyphs">IU/mL,</tspan></text>
<text y="616.40" font-size="5.22" fill="#111" stroke="#111" stroke-width="0.2"><tspan x="176.77" textLength="2.94" lengthAdjust="spacingAndGlyphs">2</tspan></text>
<text y="619.70" font-size="9.15" fill="#111" stroke="#111" stroke-width="0.32"><tspan x="182.01" textLength="32.36" lengthAdjust="spacingAndGlyphs">Defined</tspan> <tspan x="216.67" textLength="44.45" lengthAdjust="spacingAndGlyphs">historically</tspan> <tspan x="263.42" textLength="8.85" lengthAdjust="spacingAndGlyphs">as</tspan> <tspan x="274.56" textLength="19.50" lengthAdjust="spacingAndGlyphs">Type</tspan> <tspan x="296.37" textLength="7.88" lengthAdjust="spacingAndGlyphs">1:</tspan> <tspan x="306.54" textLength="19.49" lengthAdjust="spacingAndGlyphs">VWF</tspan> <tspan x="328.33" textLength="30.89" lengthAdjust="spacingAndGlyphs">antigen</tspan> <tspan x="361.52" textLength="17.94" lengthAdjust="spacingAndGlyphs">&lt;0.3</tspan> <tspan x="381.77" textLength="28.04" lengthAdjust="spacingAndGlyphs">IU/mL,</tspan></text>
<text y="616.40" font-size="5.22" fill="#111" stroke="#111" stroke-width="0.2"><tspan x="412.10" textLength="2.94" lengthAdjust="spacingAndGlyphs">3</tspan></text>
<text y="619.70" font-size="9.15" fill="#111" stroke="#111" stroke-width="0.32"><tspan x="417.34" textLength="19.50" lengthAdjust="spacingAndGlyphs">Type</tspan> <tspan x="439.14" textLength="13.30" lengthAdjust="spacingAndGlyphs">1C:</tspan></text>
<text y="632.60" font-size="9.12" fill="#111" stroke="#111" stroke-width="0.32"><tspan x="9.20" textLength="40.44" lengthAdjust="spacingAndGlyphs">Clearance</tspan> <tspan x="51.93" textLength="18.34" lengthAdjust="spacingAndGlyphs">type</tspan> <tspan x="72.56" textLength="20.99" lengthAdjust="spacingAndGlyphs">VWD</tspan> <tspan x="95.85" textLength="54.88" lengthAdjust="spacingAndGlyphs">characteristic</tspan> <tspan x="153.01" textLength="29.96" lengthAdjust="spacingAndGlyphs">genetic</tspan> <tspan x="185.26" textLength="39.33" lengthAdjust="spacingAndGlyphs">sequence</tspan> <tspan x="226.89" textLength="26.00" lengthAdjust="spacingAndGlyphs">result.</tspan></text>
</svg>
</body></html>
